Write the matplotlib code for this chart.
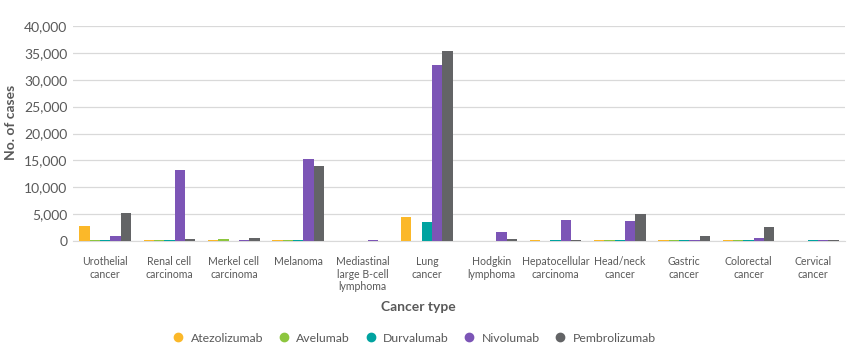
import matplotlib
matplotlib.use("Agg")
import matplotlib.pyplot as plt
import numpy as np

categories = ["Urothelial\ncancer", "Renal cell\ncarcinoma", "Merkel cell\ncarcinoma", "Melanoma",
              "Mediastinal\nlarge B-cell\nlymphoma", "Lung\ncancer", "Hodgkin\nlymphoma",
              "Hepatocellular\ncarcinoma", "Head/neck\ncancer", "Gastric\ncancer",
              "Colorectal\ncancer", "Cervical\ncancer"]
series_names = ["Atezolizumab", "Avelumab", "Durvalumab", "Nivolumab", "Pembrolizumab"]
atezolizumab = [2750, 150, 150, 150, 0, 4400, 0, 100, 150, 150, 150, 0]
avelumab = [150, 150, 350, 150, 0, 0, 0, 0, 150, 150, 150, 0]
durvalumab = [150, 150, 0, 150, 0, 3450, 0, 150, 150, 150, 150, 150]
nivolumab = [850, 13300, 150, 15300, 150, 32700, 1750, 4000, 3700, 250, 600, 150]
pembrolizumab = [5200, 400, 500, 14000, 0, 35300, 400, 250, 4950, 950, 2650, 150]
yticks = [0, 5000, 10000, 15000, 20000, 25000, 30000, 35000, 40000]

colors = ["#FBB829", "#8DC63F", "#00A3A0", "#7C55B6", "#636466"]
series = [atezolizumab, avelumab, durvalumab, nivolumab, pembrolizumab]

plt.rcParams['font.family'] = ['Lato', 'DejaVu Sans']
text_color = "#595959"

fig = plt.figure(figsize=(8.5, 3.64), dpi=100)
ax = fig.add_axes([73/850, 1-241/364, (845-73)/850, (241-26)/364])

x = np.arange(len(categories))
bw = 0.16
for i, (name, vals, c) in enumerate(zip(series_names, series, colors)):
    ax.bar(x + (i - 2) * bw, vals, width=bw, color=c, label=name, zorder=3)

ax.set_xlim(-0.5, len(categories) - 0.5)
ax.set_ylim(0, 40000)
ax.set_yticks(yticks)
ax.set_yticklabels([f"{v:,}" for v in yticks], fontsize=10, color=text_color)
ax.set_xticks(x)
ax.set_xticklabels(categories, fontsize=7.6, color=text_color, linespacing=1.15)
ax.tick_params(axis='both', length=0)
ax.tick_params(axis='x', pad=11)
ax.tick_params(axis='y', pad=4)
ax.grid(axis='y', color="#d9d9d9", linewidth=0.9, zorder=0)
for s in ['top', 'right', 'left']:
    ax.spines[s].set_visible(False)
ax.spines['bottom'].set_color("#d9d9d9")

fig.text(11/850, 1-122/364, "No. of cases", rotation=90, fontsize=10, fontweight='bold',
         color=text_color, ha='center', va='center')
fig.text(418/850, 1-307/364, "Cancer type", fontsize=10, fontweight='bold',
         color=text_color, ha='center', va='center')

handles = [plt.Line2D([], [], marker='o', linestyle='', markersize=6, color=c) for c in colors]
fig.legend(handles, series_names, loc='center', bbox_to_anchor=(414/850, 1-338/364), ncol=5,
           frameon=False, fontsize=8.8, labelcolor=text_color, handletextpad=0.5,
           columnspacing=1.2, handlelength=1.0)

fig.savefig("out.png", dpi=100)
